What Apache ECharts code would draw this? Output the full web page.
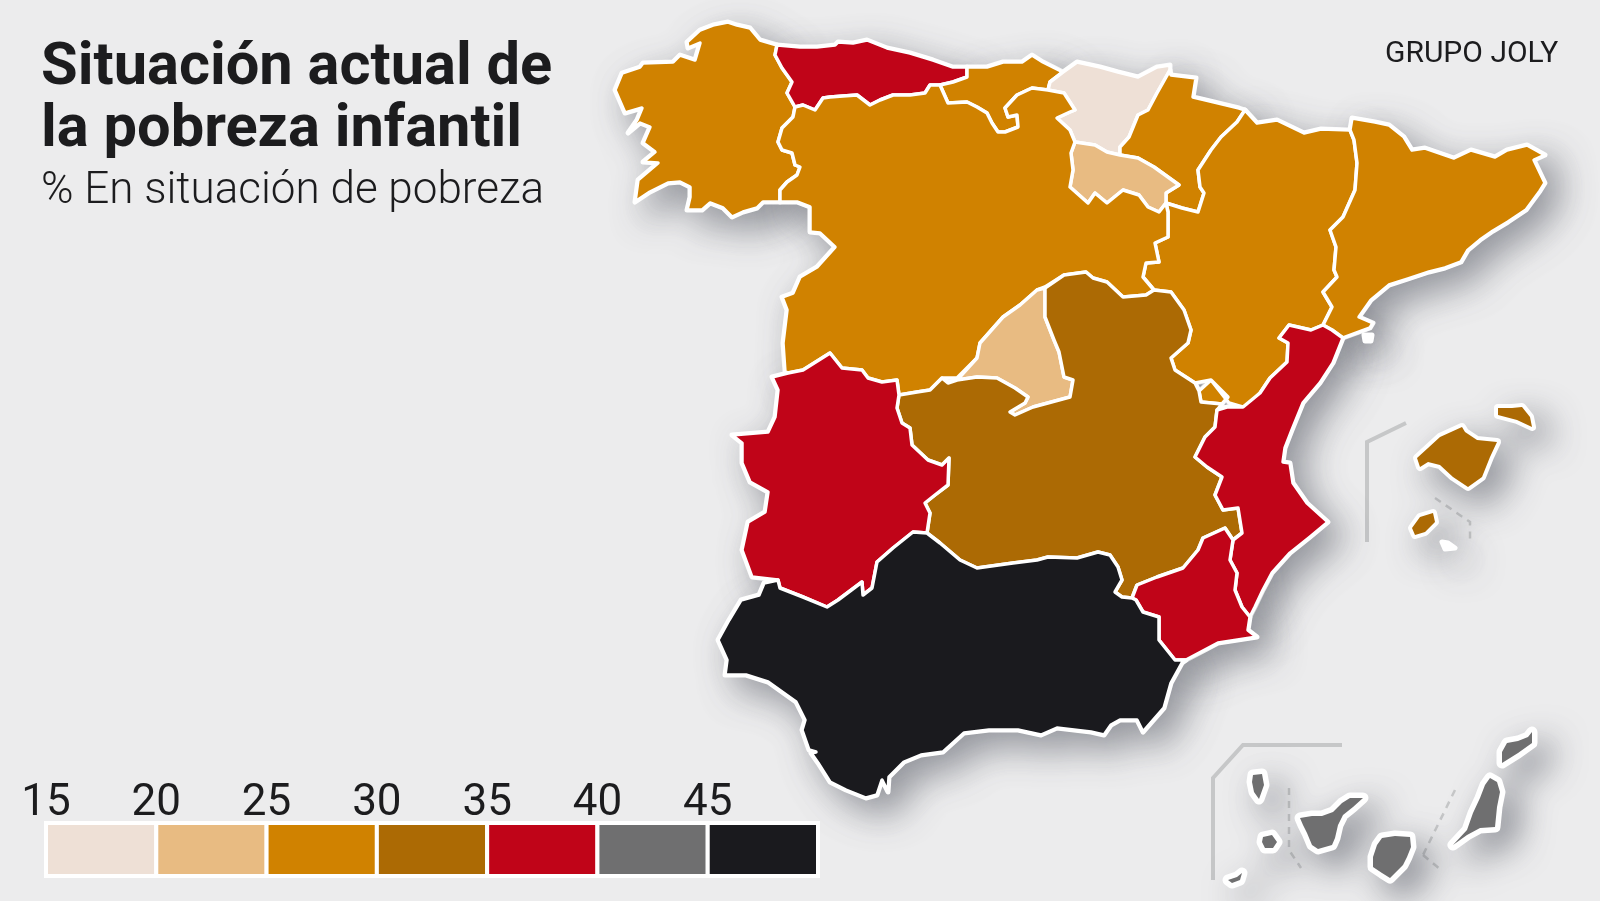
<!DOCTYPE html>
<html>
<head>
<meta charset="utf-8">
<title>Pobreza infantil</title>
<script src="https://cdn.jsdelivr.net/npm/echarts@6/dist/echarts.min.js"></script>
<style>
  html, body { margin: 0; padding: 0; background: #ececed; }
  #chart { width: 1600px; height: 901px; }
</style>
</head>
<body>
<div id="chart"></div>
<script>
// valores leidos del mapa (estimados segun el tramo de color)
var regionNames = ['Galicia', 'Asturias', 'Cantabria', 'País Vasco', 'Navarra', 'La Rioja', 'Aragón', 'Cataluña',
    'Castilla y León', 'Madrid', 'Castilla-La Mancha', 'Extremadura', 'C. Valenciana', 'Murcia', 'Andalucía', 'Baleares', 'Canarias'];
var regionValues = [27, 37, 27, 18, 28, 22, 28, 27, 28, 23, 32, 38, 37, 38, 46, 32, 42];

// tramos de la leyenda
var legendBreaks = [15, 20, 25, 30, 35, 40, 45];
var legendStep = 5;
var legendColors = ['#eee0d6', '#e8bb82', '#d08200', '#ac6a04', '#c00418', '#6f6f70', '#1a1a1e'];

// contornos de cada comunidad (anillos)
var galicia = [[[700,30],[713,25],[728,22],[737,25],[750,28],[760,40],[777,45],[775,55],[782,68],[792,82],[787,93],[795,107],[793,117],[782,128],[778,142],[782,150],[792,153],[795,165],[800,167],[797,175],[787,182],[780,190],[780,202],[763,202],[757,208],[743,212],[732,217],[723,208],[710,203],[702,210],[687,210],[690,197],[690,187],[680,182],[668,183],[650,192],[635,202],[638,180],[658,163],[643,162],[655,152],[643,143],[650,127],[640,123],[628,133],[637,120],[642,108],[625,113],[615,90],[622,73],[640,67],[643,63],[673,62],[680,55],[695,60],[700,43],[688,48],[687,42]]];
var asturias = [[[777,45],[800,47],[817,47],[835,45],[838,42],[853,43],[867,40],[887,48],[910,53],[933,60],[953,67],[967,67],[967,77],[953,82],[940,85],[930,85],[925,93],[910,95],[893,95],[880,100],[870,105],[857,95],[843,96],[830,97],[823,98],[815,110],[803,105],[795,107],[787,93],[792,82],[782,68],[775,55]]];
var cantabria = [[[967,67],[987,67],[1003,62],[1022,62],[1032,55],[1043,62],[1063,72],[1050,82],[1048,90],[1032,88],[1017,95],[1005,108],[1008,117],[1017,115],[1018,127],[1005,132],[998,132],[992,123],[987,113],[977,107],[967,102],[948,103],[940,85],[953,82],[967,77]]];
var paisVasco = [[[1063,72],[1077,62],[1100,67],[1118,72],[1138,77],[1157,67],[1170,65],[1170,70],[1157,93],[1148,110],[1138,115],[1129,137],[1120,147],[1120,155],[1107,152],[1095,145],[1075,142],[1070,130],[1057,118],[1070,112],[1075,110],[1064,93],[1048,90],[1050,82]]];
var navarra = [[[1170,70],[1171,75],[1196,78],[1193,97],[1214,102],[1239,108],[1245,110],[1237,122],[1221,137],[1211,150],[1198,170],[1200,187],[1204,193],[1198,212],[1182,208],[1166,203],[1166,193],[1179,185],[1154,167],[1138,158],[1120,155],[1120,147],[1129,137],[1138,115],[1148,110],[1157,93]]];
var rioja = [[[1075,142],[1095,145],[1107,152],[1120,155],[1138,158],[1154,167],[1179,185],[1166,193],[1166,203],[1159,212],[1148,207],[1139,195],[1123,190],[1107,203],[1095,193],[1088,203],[1070,187],[1073,170],[1071,153]]];
var aragon = [[[1245,110],[1257,123],[1277,120],[1304,133],[1321,129],[1350,130],[1354,140],[1357,163],[1355,190],[1343,217],[1330,230],[1336,247],[1334,270],[1337,277],[1323,292],[1332,307],[1323,325],[1311,330],[1289,325],[1279,338],[1288,343],[1287,362],[1270,378],[1260,393],[1246,408],[1229,403],[1211,380],[1195,383],[1175,370],[1171,358],[1188,343],[1191,330],[1184,310],[1171,292],[1154,290],[1143,277],[1146,263],[1159,262],[1155,243],[1168,237],[1168,212],[1166,203],[1182,208],[1198,212],[1204,193],[1200,187],[1198,170],[1211,150],[1221,137],[1237,122]],
    [[1199,391],[1211,380],[1228,397],[1222,404],[1201,402]]];
var cataluna = [[[1352,118],[1375,122],[1389,125],[1404,137],[1412,150],[1425,148],[1454,158],[1471,150],[1495,157],[1507,150],[1527,145],[1545,155],[1534,160],[1545,183],[1540,191],[1526,210],[1508,222],[1493,231],[1480,240],[1468,250],[1461,262],[1445,268],[1429,272],[1408,279],[1389,285],[1371,300],[1359,317],[1373,323],[1370,328],[1343,338],[1332,330],[1323,325],[1332,307],[1323,292],[1337,277],[1334,270],[1336,247],[1330,230],[1343,217],[1355,190],[1357,163],[1354,140],[1350,130]]];
var castillaLeon = [[[795,107],[803,105],[815,110],[823,98],[830,97],[843,96],[857,95],[870,105],[880,100],[893,95],[910,95],[925,93],[930,85],[940,85],[948,103],[967,102],[977,107],[987,113],[992,123],[998,132],[1005,132],[1018,127],[1017,115],[1008,117],[1005,108],[1017,95],[1032,88],[1048,90],[1064,93],[1075,110],[1070,112],[1057,118],[1070,130],[1075,142],[1071,153],[1073,170],[1070,187],[1088,203],[1095,193],[1107,203],[1123,190],[1139,195],[1148,207],[1159,212],[1166,203],[1168,212],[1168,237],[1155,243],[1159,262],[1146,263],[1143,277],[1154,290],[1146,295],[1123,297],[1107,282],[1093,278],[1086,272],[1064,275],[1045,287],[1037,290],[1020,305],[1003,317],[980,343],[977,358],[957,378],[942,378],[930,390],[917,392],[899,395],[897,380],[882,382],[868,378],[862,370],[842,368],[830,353],[803,370],[788,373],[785,372],[783,343],[787,310],[782,297],[793,293],[800,277],[817,267],[835,247],[820,233],[810,232],[810,207],[797,202],[780,202],[780,190],[787,182],[797,175],[800,167],[795,165],[792,153],[782,150],[778,142],[782,128],[793,117]]];
var madrid = [[[1045,288],[1045,317],[1054,340],[1059,352],[1064,377],[1073,380],[1070,397],[1033,407],[1015,415],[1010,412],[1025,403],[1028,397],[1015,388],[997,378],[977,377],[957,380],[977,358],[980,343],[1003,317],[1020,305],[1037,290]]];
var castillaMancha = [[[1045,288],[1064,275],[1086,272],[1093,278],[1107,282],[1123,297],[1146,295],[1154,290],[1171,292],[1184,310],[1191,330],[1188,343],[1171,358],[1175,370],[1195,383],[1199,391],[1201,402],[1222,404],[1217,410],[1215,427],[1205,437],[1195,457],[1207,467],[1222,477],[1215,495],[1223,510],[1238,508],[1242,533],[1233,540],[1225,528],[1203,538],[1198,550],[1183,568],[1157,577],[1137,585],[1132,598],[1122,597],[1115,592],[1122,580],[1118,567],[1110,555],[1098,552],[1077,558],[1048,557],[1037,560],[1013,563],[977,568],[960,560],[940,543],[927,533],[930,513],[925,503],[935,495],[948,485],[949,458],[942,465],[928,460],[912,445],[910,428],[902,423],[897,408],[899,395],[917,392],[930,390],[942,378],[948,383],[957,380],[977,377],[997,378],[1015,388],[1028,397],[1025,403],[1010,412],[1015,415],[1033,407],[1070,397],[1073,380],[1064,377],[1059,352],[1054,340],[1045,317]]];
var extremadura = [[[772,377],[778,390],[775,417],[768,432],[732,435],[742,443],[742,463],[750,482],[768,492],[765,512],[748,522],[742,550],[752,577],[778,580],[780,588],[803,597],[827,607],[838,600],[862,582],[863,595],[872,588],[877,562],[893,548],[913,532],[927,533],[930,513],[925,503],[935,495],[948,485],[949,458],[942,465],[928,460],[912,445],[910,428],[902,423],[897,408],[899,395],[897,380],[882,382],[868,378],[862,370],[842,368],[830,353],[803,370],[788,373]]];
var valencia = [[[1289,325],[1311,330],[1323,325],[1332,330],[1343,338],[1333,363],[1320,383],[1303,403],[1292,430],[1285,448],[1283,462],[1290,463],[1293,483],[1307,503],[1328,522],[1310,537],[1290,553],[1272,573],[1263,590],[1255,607],[1250,617],[1242,607],[1235,590],[1237,573],[1230,560],[1233,540],[1242,533],[1238,508],[1223,510],[1215,495],[1222,477],[1207,467],[1195,457],[1205,437],[1215,427],[1217,410],[1227,407],[1243,407],[1260,393],[1270,378],[1287,362],[1288,343],[1279,338]]];
var murcia = [[[1225,528],[1203,538],[1198,550],[1183,568],[1157,577],[1137,585],[1132,598],[1136,600],[1143,612],[1159,617],[1159,640],[1175,660],[1186,660],[1218,643],[1257,637],[1248,630],[1250,617],[1242,607],[1235,590],[1237,573],[1230,560],[1233,540]]];
var andalucia = [[[764,583],[778,580],[780,588],[803,597],[827,607],[838,600],[862,582],[863,595],[872,588],[877,562],[893,548],[913,532],[927,533],[940,543],[960,560],[977,568],[1013,563],[1037,560],[1048,557],[1077,558],[1098,552],[1110,555],[1118,567],[1122,580],[1115,592],[1122,597],[1132,598],[1136,600],[1143,612],[1159,617],[1159,640],[1175,660],[1186,660],[1182,663],[1171,683],[1164,708],[1143,732],[1137,720],[1120,720],[1111,725],[1104,735],[1091,732],[1057,728],[1041,735],[1018,730],[989,730],[964,733],[943,752],[921,755],[904,762],[889,777],[888,792],[882,780],[877,795],[866,798],[846,790],[830,782],[818,763],[811,753],[816,752],[809,750],[802,730],[805,720],[796,702],[768,682],[746,675],[725,675],[727,660],[718,640],[729,620],[741,600],[759,595]]];
var baleares = [[[1417,458],[1428,448],[1440,437],[1462,427],[1465,432],[1477,440],[1497,442],[1490,457],[1482,477],[1468,487],[1453,477],[1440,465],[1428,462],[1420,467]],
    [[1498,408],[1512,408],[1522,407],[1530,417],[1532,427],[1517,420],[1498,415]],
    [[1412,528],[1420,517],[1433,513],[1435,522],[1425,532],[1415,535]]];
var canarias = [[[1253,775],[1262,774],[1264,785],[1259,799],[1254,792],[1252,782]],
    [[1300,818],[1312,816],[1322,816],[1333,812],[1342,803],[1350,798],[1363,798],[1353,807],[1343,815],[1338,825],[1335,838],[1332,845],[1318,849],[1312,845],[1307,833],[1303,825]],
    [[1263,837],[1272,835],[1277,842],[1273,848],[1265,848],[1262,842]],
    [[1242,873],[1240,880],[1232,883],[1228,880],[1237,877]],
    [[1382,838],[1395,836],[1410,837],[1411,847],[1407,857],[1403,865],[1390,878],[1382,873],[1373,867],[1373,857],[1377,845]],
    [[1490,778],[1497,782],[1500,792],[1497,807],[1495,827],[1480,828],[1467,835],[1453,845],[1467,830],[1473,813],[1480,798],[1485,785]],
    [[1502,752],[1507,743],[1518,741],[1528,737],[1532,732],[1532,743],[1518,753],[1502,763]]];
var islotes = [[[1442,542],[1448,543],[1455,548],[1445,549]], [[1364,335],[1372,335],[1371,341],[1365,341]]];

var regionOutlines = [galicia, asturias, cantabria, paisVasco, navarra, rioja, aragon, cataluna, castillaLeon, madrid,
    castillaMancha, extremadura, valencia, murcia, andalucia, baleares, canarias];

function toFeature(name, rings) {
    return {
        type: 'Feature',
        properties: { name: name },
        geometry: {
            type: 'MultiPolygon',
            coordinates: rings.map(function (ring) {
                return [ring.map(function (p) { return [p[0], -p[1]]; })];
            })
        }
    };
}

var features = regionNames.map(function (name, i) { return toFeature(name, regionOutlines[i]); });
features.push(toFeature('Islotes', islotes));
echarts.registerMap('espana', { type: 'FeatureCollection', features: features });

var chart = echarts.init(document.getElementById('chart'));
var textColor = '#1c1c1e';
var insetColor = '#c6c7c8';
var mapBox = { left: 0, top: 0, width: 1600, height: 901, aspectScale: 1, boundingCoords: [[0, 0], [1600, -901]] };

function polyline(points, dashed) {
    return {
        type: 'polyline',
        silent: true,
        shape: { points: points },
        style: { stroke: insetColor, lineWidth: dashed ? 2.5 : 4, fill: null, lineDash: dashed ? [7, 6] : null }
    };
}

chart.setOption({
    animation: false,
    backgroundColor: '#ececed',
    title: [{
        text: 'Situación actual de\nla pobreza infantil',
        left: 41, top: 38, padding: 0,
        textStyle: { fontFamily: 'Roboto', fontWeight: 'bold', fontSize: 59.6, lineHeight: 62, color: textColor }
    }, {
        text: '% En situación de pobreza',
        left: 41, top: 170, padding: 0,
        textStyle: { fontFamily: 'Roboto', fontWeight: 300, fontSize: 44, color: textColor }
    }, {
        text: 'GRUPO JOLY',
        left: 1385, top: 39, padding: 0,
        textStyle: { fontFamily: 'Roboto', fontWeight: 'normal', fontSize: 30, color: textColor }
    }],
    grid: { left: 46, top: 823, width: 772, height: 53 },
    xAxis: {
        type: 'value', position: 'top', min: 15, max: 50, interval: legendStep,
        axisLine: { show: false }, axisTick: { show: false }, splitLine: { show: false },
        axisLabel: {
            margin: -3, fontFamily: 'Roboto', fontSize: 44, color: textColor,
            formatter: function (v) { return legendBreaks.indexOf(v) >= 0 ? String(v) : ''; }
        }
    },
    yAxis: { type: 'value', min: 0, max: 1, show: false },
    visualMap: {
        show: false,
        seriesIndex: 0,
        pieces: legendBreaks.map(function (b, i) { return { min: b, max: b + legendStep, color: legendColors[i] }; })
    },
    // capa inferior: halo blanco y sombra de todo el mapa
    geo: Object.assign({
        map: 'espana', silent: true, roam: false, label: { show: false },
        itemStyle: {
            areaColor: '#fff', borderColor: '#fff', borderWidth: 5, borderJoin: 'round',
            shadowColor: 'rgba(80, 84, 95, 0.55)', shadowBlur: 34, shadowOffsetX: 14, shadowOffsetY: 14
        },
        regions: [
            { name: 'Canarias', itemStyle: { areaColor: '#fff', borderColor: '#fff', borderWidth: 11, borderJoin: 'round' } },
            { name: 'Baleares', itemStyle: { areaColor: '#fff', borderColor: '#fff', borderWidth: 8, borderJoin: 'round' } }
        ]
    }, mapBox),
    series: [Object.assign({
        type: 'map',
        map: 'espana',
        silent: true,
        roam: false,
        label: { show: false },
        emphasis: { disabled: true },
        itemStyle: { areaColor: '#fff', borderColor: '#fff', borderWidth: 3.5, borderJoin: 'round' },
        data: regionNames.map(function (name, i) {
            var island = name === 'Canarias' || name === 'Baleares';
            return { name: name, value: regionValues[i], itemStyle: island ? { borderWidth: 0 } : {} };
        })
    }, mapBox), {
        type: 'custom',
        coordinateSystem: 'cartesian2d',
        silent: true,
        data: legendBreaks.map(function (b) { return [b, b + legendStep]; }),
        renderItem: function (params, api) {
            var start = api.coord([api.value(0), 1]);
            var end = api.coord([api.value(1), 0]);
            return {
                type: 'rect',
                shape: { x: start[0], y: start[1], width: end[0] - start[0], height: end[1] - start[1] },
                style: { fill: legendColors[params.dataIndex], stroke: '#fff', lineWidth: 4 }
            };
        }
    }],
    graphic: [
        polyline([[1406, 423], [1367, 442], [1367, 542]]),
        polyline([[1435, 498], [1470, 522], [1470, 540]], true),
        polyline([[1342, 745], [1243, 745], [1213, 778], [1213, 880]]),
        polyline([[1289, 788], [1289, 850], [1301, 868]], true),
        polyline([[1455, 790], [1423, 855]], true),
        polyline([[1423, 855], [1441, 870]], true)
    ]
});
</script>
</body>
</html>
